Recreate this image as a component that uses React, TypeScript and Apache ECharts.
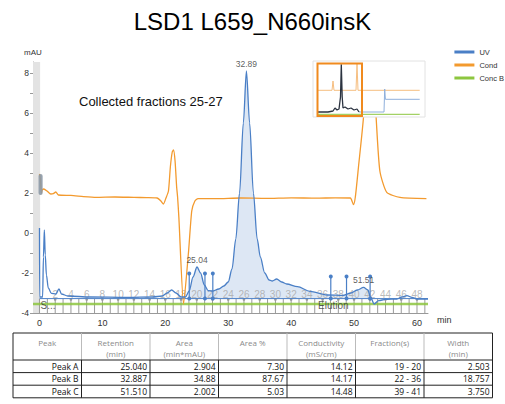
import React, { useEffect, useRef } from 'react';
import * as echarts from 'echarts';

const chartTitle = 'LSD1 L659_N660insK';
const noteText = 'Collected fractions 25-27';
const seriesNames = ['UV', 'Cond', 'Conc B'];

const yLabelTicks = [-4, -2, 0, 2, 4, 6, 8];
const yMinorTicks = [-4, -3, -2, -1, 0, 1, 2, 3, 4, 5, 6, 7, 8];
const xLabelTicks = [0, 10, 20, 30, 40, 50, 60];

// UV trace (min, mAU)
const uvData: [number, number][] = [
  [0, 0.25], [0.03, -3.2], [0.5, -3.2], [0.63, -1.2], [0.77, 0.15], [0.92, -1.1], [1.1, -2.1],
  [1.4, -2.75], [1.9, -3.02], [2.6, -3.05], [3.1, -2.8], [3.5, -3.05], [4.5, -3.15], [8, -3.2],
  [14, -3.22], [18, -3.2], [19.5, -3.15], [20.3, -3.0], [21.0, -2.85], [21.7, -3.0], [22.5, -3.2],
  [23.2, -3.2], [23.8, -2.9], [24.4, -2.2], [25.04, -1.7], [25.6, -2.0], [26.2, -2.6], [26.8, -2.88],
  [27.5, -2.9], [28.5, -2.8], [29.3, -2.65], [30, -2.45], [30.6, -1.8], [31.2, -0.3], [31.8, 2.0],
  [32.4, 5.5], [32.89, 8.1], [33.4, 5.5], [34.0, 2.0], [34.6, -0.3], [35.1, -1.2], [35.8, -2.0],
  [36.5, -2.35], [37.0, -2.4], [37.7, -2.3], [38.5, -2.45], [39.3, -2.55], [41, -2.68], [43, -2.92],
  [45.7, -3.1], [48.3, -3.12], [49.5, -3.0], [50.5, -2.85], [51.51, -2.72], [52.2, -2.85],
  [52.6, -3.2], [53.2, -3.55], [53.9, -3.38], [55, -3.32], [56.8, -3.3], [57.6, -3.2], [58.4, -3.13],
  [59.2, -3.22], [60, -3.3], [61.75, -3.3],
];

// Conductivity trace (drawn on the mAU scale)
const condData: [number, number][] = [
  [0, 2.95], [0.15, 2.7], [0.3, 2.0], [0.45, 2.15], [0.7, 2.2], [1.2, 2.1], [1.8, 1.95], [2.2, 1.97],
  [2.6, 2.05], [3.0, 1.9], [5, 1.88], [7, 1.82], [9, 1.78], [12, 1.8], [15, 1.78], [17, 1.77],
  [18.7, 1.75], [19.3, 1.6], [19.7, 1.45], [20.1, 1.75], [20.5, 2.1], [20.8, 3.3], [21.1, 4.05],
  [21.3, 4.15], [21.55, 3.6], [21.8, 2.3], [21.95, 1.8], [22.15, 0.8], [22.9, -3.55], [23.7, -0.9],
  [24.2, 1.1], [24.7, 1.6], [25.2, 1.72], [28, 1.72], [32, 1.75], [36, 1.73], [40, 1.76], [44, 1.74],
  [47, 1.76], [49.4, 1.75], [49.9, 1.42], [50.2, 1.8], [50.7, 3.3], [51.5, 5.8], [52.5, 11],
  [53.5, 5.8], [54.1, 3.1], [55.2, 2.03], [57.3, 1.78], [61.5, 1.72],
];

const concBLevel = -3.55;
const baselineLevel = -3.28;

// Fractions
const fractionWidth = 1.25;
const fractionBounds = [0, 1, 2, 3, 4, 5, 6, 7, 8, 9, 10, 11, 12, 13, 14, 15, 16, 17, 18, 19, 20, 21, 22, 23, 24,
  25, 26, 27, 28, 29, 30, 31, 32, 33, 34, 35, 36, 37, 38, 39, 40, 41, 42, 43, 44, 45, 46, 47, 48, 49];
const fractionLabels = [2, 4, 6, 8, 10, 12, 14, 16, 18, 20, 22, 24, 26, 28, 30, 32, 34, 36, 38, 40, 42, 44, 46, 48];

// Events
const eventNames = ['S...', 'Elution'];
const eventTimes = [0.1, 46.7];

// Peaks
const peakNames = ['Peak A', 'Peak B', 'Peak C'];
const peakRetention = [25.04, 32.887, 51.51];
const peakHeight = [-1.7, 8.1, -2.72];
const peakArea = [2.904, 34.88, 2.002];
const peakAreaPct = [7.3, 87.67, 5.03];
const peakConductivity = [14.12, 14.17, 14.48];
const peakFractions = ['19 - 20', '22 - 36', '39 - 41'];
const peakWidth = [2.503, 18.757, 3.75];
const peakStart = [23.8, 27.55, 48.8];
const peakEnd = [26.3, 46.3, 52.55];
const peakMarkTop = [[-2.02, -2.02], [-2.02, -2.17], [-2.17, -2.17]];

// Overview thumbnail (pixel-like units of the thumbnail box)
const thumbCond: [number, number][] = [[5, 26.7], [19, 26.7], [20, 36], [21, 26.7], [43, 26.7], [44, 53], [45, 26.7], [106.7, 26.7]];
const thumbUv: [number, number][] = [[46, 5], [71, 5], [71.7, 28], [72.4, 17.7], [106.7, 17.7]];
const thumbUvSel: [number, number][] = [[5, 5], [15, 5], [20, 6], [22, 9], [24, 7], [26, 8], [27.5, 20], [28.3, 52.7],
  [29.2, 20], [30, 9], [32, 10], [35, 8], [38, 9], [41, 7], [44, 8], [46, 5]];
const thumbConcB: [number, number][] = [[5, 2.7], [106.7, 2.7]];

const tableHeaders = ['Peak', 'Retention\n(min)', 'Area\n(min*mAU)', 'Area %', 'Conductivity\n(mS/cm)', 'Fraction(s)', 'Width\n(min)'];

const UV_COLOR = '#4a7fc6';
const COND_COLOR = '#f39a2e';
const CONC_COLOR = '#8dc63f';
const FONT = '"Liberation Sans", Arial, sans-serif';
const TFONT = '"Open Sans", "Noto Sans", sans-serif';

function buildTable() {
  const left = 13;
  const colW = 68.5;
  const top = 333;
  const headH = 27;
  const rowH = 12.6;
  const nCols = tableHeaders.length;
  const right = left + colW * nCols;
  const bottom = top + headH + rowH * peakNames.length;
  const els: any[] = [];
  els.push({ type: 'rect', shape: { x: left, y: top, width: right - left, height: bottom - top }, style: { fill: '#fff', stroke: '#222', lineWidth: 1 }, z: 20 });
  for (let c = 1; c < nCols; c++) {
    const x = left + colW * c;
    els.push({ type: 'line', shape: { x1: x, y1: top, x2: x, y2: top + headH }, style: { stroke: '#bbb', lineWidth: 1 }, z: 21 });
    els.push({ type: 'line', shape: { x1: x, y1: top + headH, x2: x, y2: bottom }, style: { stroke: '#222', lineWidth: 1 }, z: 21 });
  }
  for (let r = 0; r < peakNames.length; r++) {
    const y = top + headH + rowH * r;
    els.push({ type: 'line', shape: { x1: left, y1: y, x2: right, y2: y }, style: { stroke: '#222', lineWidth: 1 }, z: 21 });
  }
  tableHeaders.forEach((h, c) => {
    els.push({ type: 'text', x: left + colW * c + colW / 2, y: top + 4, style: { text: h, align: 'center', verticalAlign: 'top', fill: '#8a8a8a', font: `8px ${TFONT}`, lineHeight: 11 }, z: 22 });
  });
  peakNames.forEach((name, r) => {
    const cells = [
      name,
      peakRetention[r].toFixed(3),
      peakArea[r].toPrecision(4),
      peakAreaPct[r].toFixed(2),
      peakConductivity[r].toFixed(2),
      peakFractions[r],
      peakWidth[r].toFixed(3),
    ];
    const cy = top + headH + rowH * r + rowH / 2;
    cells.forEach((txt, c) => {
      els.push({ type: 'text', x: left + colW * (c + 1) - 3, y: cy, style: { text: txt, align: 'right', verticalAlign: 'middle', fill: '#111', font: `8.5px ${TFONT}` }, z: 22 });
    });
  });
  return els;
}

function buildOption(): any {
  const fillData = uvData.filter(([t]) => t >= peakStart[0] && t <= peakEnd[2]);
  const markerData: number[][] = [];
  peakStart.forEach((s, i) => {
    markerData.push([s, peakMarkTop[i][0]]);
    markerData.push([peakEnd[i], peakMarkTop[i][1]]);
  });
  return {
    animation: false,
    backgroundColor: '#fff',
    textStyle: { fontFamily: FONT },
    title: [
      { text: chartTitle, left: 'center', top: 4, textStyle: { fontSize: 24, fontWeight: 'normal', color: '#000', fontFamily: FONT } },
      { text: noteText, left: 74, top: 90, textStyle: { fontSize: 13, fontWeight: 'normal', color: '#111', fontFamily: FONT } },
    ],
    legend: {
      data: seriesNames,
      orient: 'vertical',
      right: 0,
      top: 43,
      align: 'left',
      padding: [5, 1, 5, 0],
      itemWidth: 20,
      itemHeight: 3,
      itemGap: 5,
      icon: 'rect',
      textStyle: { fontSize: 7.5, color: '#333', fontFamily: FONT },
    },
    grid: [
      { left: 33, right: 77, top: 62, bottom: 91 },
      { left: 313, top: 61, width: 112, height: 56 },
    ],
    xAxis: [
      {
        type: 'value', gridIndex: 0, min: -1.03, max: 61.75,
        name: 'min', nameLocation: 'end', nameGap: 9,
        nameTextStyle: { fontSize: 9, color: '#333', verticalAlign: 'top', align: 'left', padding: [2, 0, 0, 0] },
        axisLine: { show: true, onZero: false, lineStyle: { color: '#999' } },
        axisTick: { show: false },
        axisLabel: { customValues: xLabelTicks, fontSize: 9, color: '#333', margin: 5 },
        splitLine: { show: false },
      },
      { type: 'value', gridIndex: 1, min: 0, max: 112, show: false },
    ],
    yAxis: [
      {
        type: 'value', gridIndex: 0, min: -4, max: 8.55,
        name: 'mAU', nameLocation: 'end', nameGap: 6,
        nameTextStyle: { fontSize: 8, color: '#333', align: 'center' },
        axisLine: { show: true, onZero: false, lineStyle: { color: '#999' } },
        axisTick: { show: true, customValues: yMinorTicks, length: 3, lineStyle: { color: '#999' } },
        axisLabel: { customValues: yLabelTicks, fontSize: 8.5, color: '#333', margin: 4 },
        splitLine: { show: false },
      },
      { type: 'value', gridIndex: 1, min: 0, max: 56, show: false },
    ],
    series: [
      {
        name: 'band', type: 'custom', z: 1, silent: true,
        data: [[-1.03, 8.55]],
        renderItem: (_p: any, api: any) => {
          const tl = api.coord([-1.03, 8.55]);
          const br = api.coord([0.1, -4]);
          return { type: 'rect', shape: { x: tl[0], y: tl[1], width: br[0] - tl[0], height: br[1] - tl[1] }, style: { fill: '#e3e3e3' } };
        },
      },
      {
        name: 'injectMark', type: 'custom', z: 9, silent: true,
        data: [[0.15, 2.4]],
        renderItem: (_p: any, api: any) => {
          const b1 = api.coord([-0.15, 2.95]);
          const b2 = api.coord([0.5, 1.9]);
          return { type: 'rect', shape: { x: b1[0], y: b1[1], width: b2[0] - b1[0], height: b2[1] - b1[1], r: 2.5 }, style: { fill: '#8c99a6', opacity: 0.9 } };
        },
      },
      {
        name: 'uvFill', type: 'line', data: fillData, smooth: 0.3, smoothMonotone: 'x', showSymbol: false, z: 2, silent: true,
        lineStyle: { width: 0, opacity: 0 },
        areaStyle: { color: 'rgba(74,127,198,0.27)', origin: baselineLevel },
      },
      {
        name: 'baseline', type: 'line', data: [[0, baselineLevel], [61.75, baselineLevel]], showSymbol: false, z: 3, silent: true,
        lineStyle: { width: 1, color: UV_COLOR },
      },
      {
        name: 'fractions', type: 'custom', z: 3, silent: true,
        data: fractionBounds.map((k) => [k * fractionWidth, -3.3, k]),
        renderItem: (_p: any, api: any) => {
          const t = api.value(0);
          const k = api.value(2);
          const top = api.coord([t, -3.3]);
          const bot = api.coord([t, -4]);
          const children: any[] = [
            { type: 'line', shape: { x1: top[0], y1: top[1], x2: bot[0], y2: bot[1] }, style: { stroke: '#9a9a9a', lineWidth: 1 } },
          ];
          if (k % 2 === 0 && k > 0) children.push({ type: 'circle', shape: { cx: top[0], cy: top[1] + 0.5, r: 1.3 }, style: { fill: '#9a9a9a' } });
          return { type: 'group', children };
        },
      },
      {
        name: 'fractionLabels', type: 'scatter', z: 4, silent: true, symbolSize: 1,
        itemStyle: { color: 'rgba(0,0,0,0)' },
        data: fractionLabels.map((n) => [n * fractionWidth, -3.05, n]),
        label: { show: true, position: 'inside', formatter: (p: any) => String(p.value[2]), color: '#a8a8a8', fontSize: 10, fontFamily: FONT },
      },
      {
        name: 'Conc B', type: 'line', data: [[-1.03, concBLevel], [61.75, concBLevel]], showSymbol: false, z: 4,
        color: CONC_COLOR, lineStyle: { width: 2.5, color: CONC_COLOR, opacity: 0.85 },
      },
      {
        name: 'Cond', type: 'line', data: condData, smooth: 0.2, showSymbol: false, z: 5,
        color: COND_COLOR, lineStyle: { width: 1.3, color: COND_COLOR },
      },
      {
        name: 'UV', type: 'line', data: uvData, smooth: 0.3, smoothMonotone: 'x', showSymbol: false, z: 6,
        color: UV_COLOR, lineStyle: { width: 1.3, color: UV_COLOR },
      },
      {
        name: 'peakMarks', type: 'custom', z: 7, silent: true,
        data: markerData,
        renderItem: (_p: any, api: any) => {
          const top = api.coord([api.value(0), api.value(1)]);
          const bot = api.coord([api.value(0), baselineLevel]);
          return {
            type: 'group',
            children: [
              { type: 'line', shape: { x1: top[0], y1: top[1], x2: bot[0], y2: bot[1] }, style: { stroke: UV_COLOR, lineWidth: 1.2 } },
              { type: 'circle', shape: { cx: top[0], cy: top[1], r: 2 }, style: { fill: UV_COLOR } },
              { type: 'circle', shape: { cx: bot[0], cy: bot[1], r: 2 }, style: { fill: UV_COLOR } },
            ],
          };
        },
      },
      {
        name: 'peakLabels', type: 'scatter', z: 8, silent: true, symbolSize: 1,
        itemStyle: { color: 'rgba(0,0,0,0)' },
        data: peakRetention.map((t, i) => [t, peakHeight[i]]),
        label: { show: true, position: 'top', distance: 2, formatter: (p: any) => p.value[0].toFixed(2), color: '#333', fontSize: 8.5, fontFamily: FONT },
      },
      {
        name: 'events', type: 'scatter', z: 8, silent: true, symbolSize: 1,
        itemStyle: { color: 'rgba(0,0,0,0)' },
        data: eventTimes.map((t, i) => ({ value: [t, -3.63], name: eventNames[i], label: { position: i === 0 ? 'right' : 'inside' } })),
        label: { show: true, formatter: (p: any) => p.name, color: '#333', fontSize: 10, fontFamily: FONT, distance: 0 },
      },
      {
        name: 'thumbConcB', type: 'line', xAxisIndex: 1, yAxisIndex: 1, data: thumbConcB, showSymbol: false, z: 11, silent: true,
        lineStyle: { width: 1, color: CONC_COLOR },
      },
      {
        name: 'thumbCond', type: 'line', xAxisIndex: 1, yAxisIndex: 1, data: thumbCond, showSymbol: false, z: 11, silent: true,
        lineStyle: { width: 1, color: '#f6be80' },
      },
      {
        name: 'thumbUv', type: 'line', xAxisIndex: 1, yAxisIndex: 1, data: thumbUv, showSymbol: false, z: 11, silent: true,
        lineStyle: { width: 1, color: '#8fb0dc' },
      },
      {
        name: 'thumbUvSel', type: 'line', xAxisIndex: 1, yAxisIndex: 1, data: thumbUvSel, showSymbol: false, z: 12, silent: true,
        lineStyle: { width: 1.3, color: '#2b3340' },
      },
    ],
    graphic: [
      { type: 'rect', shape: { x: 313, y: 61, width: 112, height: 56 }, style: { fill: '#fff', stroke: '#e2e2e2', lineWidth: 1 }, z: 10, silent: true },
      { type: 'rect', shape: { x: 317.5, y: 63.5, width: 44.5, height: 52.5 }, style: { fill: 'none', stroke: '#f08a1e', lineWidth: 2 }, z: 13, silent: true },
      ...buildTable(),
    ],
  };
}

export default function App() {
  const ref = useRef<HTMLDivElement>(null);
  useEffect(() => {
    const chart = echarts.init(ref.current!, null, { renderer: 'svg' });
    chart.setOption(buildOption());
    return () => chart.dispose();
  }, []);
  return (
    <div
      ref={ref}
      style={{ position: 'fixed', left: 0, top: 0, width: 505, height: 404, background: '#fff' }}
    />
  );
}
